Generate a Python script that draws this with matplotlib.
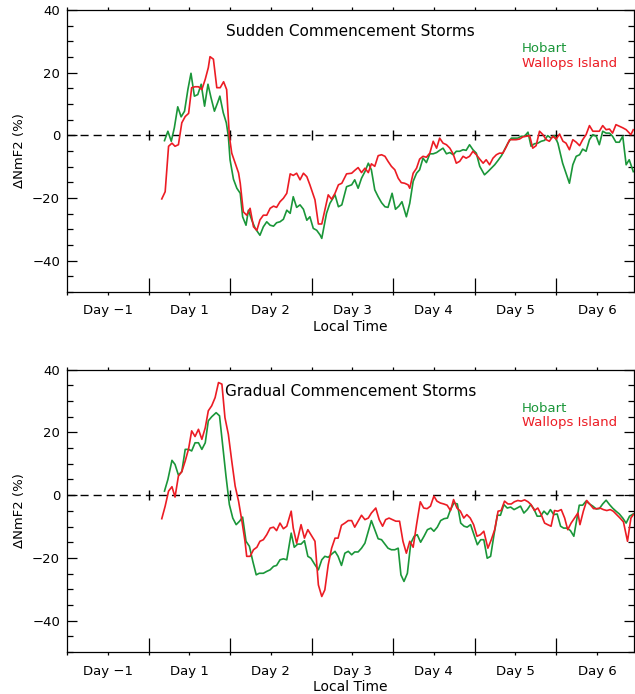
import numpy as np
import matplotlib
matplotlib.use("Agg")
from matplotlib import pyplot as plt

# hours after storm onset (Day 1 starts at 0 h) and NmF2 departure in %
sc_hobart_hr = [4.7, 5.7, 6.7, 7.6, 8.6, 9.6, 10.6, 11.6, 12.5, 13.5, 14.5, 15.5, 16.5, 17.5, 18.4, 19.4,
                20.4, 21.0, 22.0, 22.9, 23.5, 24.0, 25.0, 26.0, 27.0, 27.7, 28.7, 29.4, 30.4, 31.4, 32.8,
                33.8, 34.8, 35.8, 36.8, 37.7, 38.7, 39.7, 40.7, 41.7, 42.6, 43.6, 44.6, 45.6, 46.6, 47.5,
                48.5, 49.5, 50.5, 51.0, 52.4, 53.4, 54.9, 55.9, 56.9, 58.3, 59.8, 60.7, 61.7, 62.7, 63.7,
                64.7, 65.6, 66.6, 67.6, 68.6, 69.6, 70.5, 71.7, 72.7, 73.7, 74.6, 75.9, 76.9, 77.9, 78.9,
                79.8, 80.8, 81.8, 82.8, 83.8, 84.8, 85.7, 86.7, 87.7, 88.7, 89.7, 90.6, 91.6, 92.6, 93.5,
                94.5, 95.5, 96.5, 97.5, 98.9, 99.9, 100.9, 101.9, 102.9, 103.9, 104.8, 105.8, 106.8, 107.8,
                108.7, 109.7, 110.7, 111.7, 112.6, 113.6, 114.6, 115.6, 116.6, 117.5, 118.5, 119.5, 120.5,
                121.9, 122.9, 123.9, 124.9, 125.9, 126.9, 127.8, 128.8, 129.8, 130.8, 131.8, 132.7, 133.7,
                134.7, 135.7, 136.6, 137.6, 138.6, 139.6, 140.6, 141.5, 142.7]
sc_hobart_pct = [-1.7, 1.3, -1.9, 2.4, 9.1, 5.9, 7.7, 14.7, 19.8, 12.5, 13.0, 16.3, 9.3, 16.3, 12.0, 7.7,
                 10.6, 12.5, 7.2, 4.0, -0.3, -7.8, -14.0, -16.9, -18.5, -26.0, -28.7, -23.9, -27.1, -29.7,
                 -31.9, -29.2, -27.6, -28.7, -29.0, -27.9, -27.6, -26.8, -23.9, -24.9, -19.6, -23.0, -22.2,
                 -23.6, -27.1, -26.0, -29.7, -30.3, -31.8, -32.9, -24.9, -21.7, -19.0, -22.8, -22.2, -16.4,
                 -15.8, -14.2, -16.9, -13.7, -11.6, -8.9, -11.0, -17.4, -19.6, -21.5, -22.8, -23.0, -18.5,
                 -23.6, -22.6, -21.2, -26.0, -21.7, -14.7, -12.1, -11.0, -7.3, -8.7, -5.9, -5.9, -5.5, -4.8,
                 -4.1, -5.9, -5.5, -6.2, -5.1, -5.1, -4.6, -4.8, -3.0, -4.6, -5.7, -9.9, -12.6, -11.6, -10.5,
                 -9.4, -8.0, -6.5, -4.6, -2.5, -0.9, -0.9, -0.9, -0.3, -0.3, 1.0, -3.5, -2.7, -2.5, -1.9,
                 -1.6, -0.1, -0.9, -0.1, -2.5, -8.9, -12.1, -15.3, -9.4, -6.7, -6.2, -4.4, -5.1, -1.4, 0.2,
                 -0.3, -3.0, 1.3, 0.7, 0.7, -0.3, -2.2, -2.2, -0.3, -9.4, -7.8, -11.6]

sc_wallops_hr = [3.9, 4.9, 5.9, 6.9, 7.8, 8.8, 9.8, 10.8, 11.8, 12.7, 13.7, 14.7, 15.7, 16.7, 17.6, 18.1,
                 19.1, 20.1, 21.1, 22.1, 23.0, 23.8, 24.5, 25.5, 26.5, 27.0, 27.9, 28.9, 29.9, 30.9, 31.9,
                 32.8, 33.8, 34.8, 35.8, 36.8, 37.7, 38.7, 39.7, 40.7, 41.7, 42.6, 43.6, 44.6, 45.6, 46.6,
                 47.5, 49.0, 50.0, 51.0, 51.9, 52.9, 53.9, 54.9, 55.9, 56.9, 58.3, 59.8, 60.7, 61.7, 62.7,
                 63.7, 64.7, 65.6, 66.6, 67.6, 68.6, 69.6, 70.5, 71.5, 72.5, 73.5, 74.4, 75.4, 76.4, 76.9,
                 77.9, 78.9, 79.8, 80.8, 81.8, 82.8, 83.8, 84.8, 85.7, 86.7, 87.7, 88.7, 89.7, 90.6, 91.6,
                 92.6, 93.5, 94.5, 95.5, 96.5, 97.5, 98.5, 99.4, 100.4, 101.4, 102.4, 103.3, 104.3, 105.3,
                 106.3, 107.3, 108.2, 109.2, 110.2, 111.2, 112.2, 113.1, 114.1, 115.1, 116.1, 117.1, 118.0,
                 119.0, 120.0, 121.0, 122.0, 122.9, 123.9, 124.9, 125.9, 126.9, 127.8, 128.8, 129.8, 130.8,
                 131.8, 132.7, 133.7, 134.7, 135.7, 136.6, 137.6, 138.6, 139.6, 140.6, 142.0, 142.7]
sc_wallops_pct = [-20.3, -18.0, -3.5, -2.5, -3.5, -3.0, 4.0, 6.0, 7.0, 15.2, 15.5, 15.5, 14.6, 17.9, 21.6,
                  25.1, 24.3, 15.2, 15.2, 17.1, 14.6, -0.3, -5.7, -8.9, -12.0, -15.3, -24.4, -25.5, -23.3,
                  -29.2, -30.3, -27.0, -25.5, -25.5, -23.3, -22.6, -23.0, -21.2, -20.1, -18.5, -12.3, -12.8,
                  -12.1, -14.2, -12.1, -13.2, -15.8, -20.6, -28.3, -28.3, -23.9, -19.0, -20.4, -18.5, -15.8,
                  -15.3, -12.3, -12.1, -11.2, -10.3, -11.9, -10.5, -11.9, -9.1, -9.9, -6.5, -6.2, -6.7, -8.3,
                  -9.9, -11.0, -13.7, -15.1, -15.3, -15.8, -16.9, -12.1, -10.5, -7.6, -6.7, -7.0, -5.7, -1.9,
                  -4.1, -0.9, -2.5, -3.0, -4.1, -6.0, -8.9, -8.3, -6.7, -7.3, -6.7, -5.1, -6.2, -7.6, -8.9,
                  -7.8, -9.4, -7.3, -6.2, -5.7, -5.7, -3.7, -1.4, -1.4, -1.4, -1.2, -0.5, -0.3, -0.1, -4.1,
                  -3.3, 1.3, 0.2, -1.4, -1.9, -0.3, -1.2, 0.4, -1.9, -2.5, -4.6, -1.4, -2.2, -3.3, -1.4, 0.2,
                  3.1, 1.3, 1.3, 1.3, 3.1, 1.8, 2.0, 0.7, 3.4, 2.9, 2.4, 1.8, 0.2, 1.8]

gc_hobart_hr = [4.7, 5.7, 6.9, 7.8, 8.8, 9.8, 10.8, 11.8, 12.7, 13.7, 14.7, 15.7, 16.7, 17.6, 18.6, 19.9,
                20.9, 21.9, 22.8, 23.8, 24.8, 25.8, 26.8, 27.7, 28.7, 29.7, 30.7, 31.7, 32.6, 33.8, 34.8,
                35.8, 36.8, 37.7, 38.7, 39.7, 40.7, 42.0, 42.9, 43.9, 44.9, 45.9, 46.9, 47.8, 49.0, 50.0,
                51.0, 51.9, 52.9, 53.9, 54.9, 55.8, 56.8, 57.8, 58.8, 59.8, 60.7, 61.7, 62.7, 63.7, 64.7,
                65.6, 66.6, 67.6, 68.6, 69.6, 70.5, 71.5, 72.5, 73.5, 74.3, 75.2, 76.2, 77.2, 78.2, 79.1,
                80.1, 81.1, 82.1, 83.1, 84.0, 85.0, 86.0, 87.0, 88.0, 88.9, 89.9, 90.9, 91.9, 92.9, 93.8,
                94.8, 95.8, 96.8, 97.8, 98.7, 99.7, 100.7, 101.7, 102.7, 103.6, 104.6, 105.6, 106.6, 107.6,
                108.5, 109.5, 110.5, 111.5, 112.5, 113.4, 114.4, 115.4, 116.4, 117.4, 118.3, 119.3, 120.3,
                121.3, 122.2, 123.2, 124.2, 125.2, 126.8, 127.8, 128.8, 129.8, 130.8, 131.8, 132.7, 133.7,
                134.7, 135.7, 136.6, 137.6, 138.6, 139.6, 140.6, 141.6, 142.7]
gc_hobart_pct = [1.3, 5.0, 11.1, 9.8, 6.4, 7.5, 14.6, 14.6, 14.1, 16.7, 16.7, 14.6, 16.7, 23.7, 25.0, 26.3,
                 25.3, 15.1, 6.1, -3.0, -7.3, -9.4, -8.3, -7.0, -14.7, -16.3, -21.1, -25.4, -24.9, -24.9,
                 -24.3, -23.8, -22.7, -22.4, -20.6, -20.3, -20.6, -12.1, -16.6, -15.6, -15.6, -14.5, -19.5,
                 -20.1, -22.2, -23.8, -20.6, -19.5, -19.8, -18.8, -17.9, -19.5, -22.4, -18.5, -17.9, -19.0,
                 -18.1, -18.1, -16.9, -15.3, -11.5, -8.1, -11.0, -13.9, -14.2, -15.6, -16.9, -17.4, -17.4,
                 -16.9, -25.4, -27.5, -24.9, -15.3, -13.1, -12.6, -15.0, -13.1, -11.0, -10.5, -11.5, -10.2,
                 -8.1, -7.5, -7.3, -4.6, -2.5, -2.8, -8.9, -9.9, -10.2, -9.4, -12.6, -15.8, -14.2, -14.2,
                 -20.1, -19.5, -12.6, -6.4, -6.4, -3.0, -4.1, -3.8, -4.6, -4.1, -3.5, -5.7, -4.6, -3.0,
                 -4.3, -6.7, -6.7, -5.1, -6.2, -4.6, -6.2, -6.0, -9.9, -10.5, -10.5, -11.3, -13.1, -3.2,
                 -3.2, -1.9, -2.8, -3.5, -4.4, -4.3, -2.8, -1.6, -3.0, -4.1, -5.1, -6.0, -7.3, -8.9, -6.7,
                 -6.0]

gc_wallops_hr = [3.9, 4.9, 5.9, 6.9, 7.8, 8.8, 9.8, 10.8, 11.8, 12.7, 13.7, 14.7, 15.7, 16.7, 17.6, 18.6,
                 19.6, 20.6, 21.6, 22.5, 23.5, 24.5, 25.5, 26.5, 27.5, 28.4, 28.9, 29.9, 30.9, 31.9, 32.8,
                 33.8, 34.8, 35.8, 36.8, 37.7, 38.7, 39.7, 40.7, 42.0, 42.6, 43.6, 44.9, 45.9, 46.9, 47.8,
                 49.0, 50.0, 51.0, 51.9, 52.9, 53.9, 54.9, 55.8, 56.8, 57.8, 58.8, 59.8, 60.7, 61.7, 62.7,
                 63.7, 64.7, 65.6, 66.9, 67.9, 68.9, 69.8, 70.8, 71.8, 72.8, 73.9, 74.9, 75.9, 76.9, 77.9,
                 78.9, 80.0, 81.0, 82.0, 83.0, 84.0, 84.9, 85.9, 86.9, 87.9, 88.9, 89.8, 90.8, 91.8, 92.8,
                 93.7, 94.7, 95.7, 96.7, 97.7, 98.7, 99.9, 100.9, 101.9, 102.9, 103.8, 104.8, 105.8, 106.8,
                 107.7, 108.7, 109.7, 110.7, 111.7, 112.6, 113.6, 114.6, 115.6, 116.6, 117.5, 118.5, 119.5,
                 120.5, 121.5, 122.5, 123.4, 124.4, 125.4, 126.4, 127.0, 128.0, 129.0, 130.0, 131.0, 131.9,
                 132.9, 133.9, 134.9, 135.9, 136.8, 137.8, 138.8, 139.8, 141.0, 142.0, 142.7]
gc_wallops_pct = [-7.5, -3.5, 1.3, 2.7, -0.6, 6.1, 7.5, 10.9, 14.8, 20.5, 18.7, 21.0, 17.8, 21.5, 26.9, 28.5,
                  31.1, 35.9, 35.4, 24.7, 19.4, 10.9, 2.9, -1.9, -8.3, -14.7, -19.5, -19.5, -17.4, -16.6,
                  -14.7, -14.2, -12.6, -10.5, -10.2, -11.3, -8.9, -10.7, -9.9, -5.1, -10.5, -15.3, -9.4,
                  -13.7, -11.0, -12.6, -14.7, -28.6, -32.3, -30.2, -22.2, -16.9, -13.7, -13.7, -9.6, -8.9,
                  -8.1, -8.1, -10.2, -8.3, -6.4, -7.8, -7.3, -5.7, -4.1, -7.8, -9.9, -7.8, -7.3, -7.8, -8.3,
                  -8.3, -14.7, -18.5, -14.7, -16.6, -9.4, -2.1, -4.1, -4.3, -3.5, -0.3, -1.9, -2.5, -2.8,
                  -3.2, -4.9, -1.4, -4.1, -5.1, -7.3, -6.2, -7.3, -9.4, -13.1, -12.6, -11.5, -16.9, -14.2,
                  -11.0, -5.1, -4.9, -1.9, -2.8, -2.8, -2.1, -1.7, -1.9, -1.5, -2.1, -3.0, -4.9, -4.1, -6.2,
                  -8.9, -9.4, -9.9, -4.9, -5.1, -4.6, -7.3, -11.0, -8.9, -7.3, -5.7, -9.4, -5.1, -1.7, -3.0,
                  -4.3, -4.3, -4.1, -4.6, -4.9, -4.6, -5.1, -6.2, -7.3, -8.5, -14.7, -7.3, -6.2]

day_edges = [0, 24, 48, 72, 96, 120]
day_centers = [-12, 12, 36, 60, 84, 108, 132]
day_labels = ["Day \u22121", "Day 1", "Day 2", "Day 3", "Day 4", "Day 5", "Day 6"]

GREEN = "#1a9639"
RED = "#ec1c24"

plt.rcParams["font.family"] = ["DejaVu Sans"]


def draw_panel(ax, title, hob_hr, hob_pct, wal_hr, wal_pct):
    ax.axhline(0, color="black", lw=1.0, ls=(0, (5.8, 3.6)), zorder=1)
    ax.vlines(day_edges, -1.6, 1.6, color="black", lw=1.0, zorder=1)
    ax.plot(hob_hr, hob_pct, color=GREEN, lw=1.2, zorder=2)
    ax.plot(wal_hr, wal_pct, color=RED, lw=1.2, zorder=3)

    ax.set_xlim(-24, 143)
    ax.set_ylim(-50, 40)

    # 12-hourly short ticks, day labels in the middle of each day
    ticks = np.arange(-24, 144, 12)
    labels = [day_labels[day_centers.index(t)] if t in day_centers else "" for t in ticks]
    ax.set_xticks(ticks, labels)
    ax.set_xticks(day_edges, minor=True)
    ax.xaxis.remove_overlapping_locs = False
    ax.tick_params(axis="x", which="major", direction="out", length=2, width=0.9,
                   top=True, bottom=True, labelsize=9.5, pad=7)
    ax.tick_params(axis="x", which="minor", direction="in", length=10, width=0.9,
                   top=False, bottom=True)

    ax.set_yticks([-40, -20, 0, 20, 40])
    ax.set_yticks(np.arange(-50, 41, 5), minor=True)
    ax.tick_params(axis="y", which="major", direction="in", length=7.5, width=0.9,
                   left=True, right=True, labelsize=9.5, pad=5)
    ax.tick_params(axis="y", which="minor", direction="in", length=4, width=0.9,
                   left=True, right=True)

    for sp in ax.spines.values():
        sp.set_linewidth(0.9)

    ax.set_xlabel("Local Time", fontsize=10, labelpad=1.5)
    ax.set_ylabel("\u0394NmF2 (%)", fontsize=9.5)
    ax.yaxis.set_label_coords(-0.072, 0.5)

    ax.text(0.5, 0.922, title, transform=ax.transAxes, ha="center", va="center", fontsize=11)
    ax.text(0.802, 0.863, "Hobart", transform=ax.transAxes, ha="left", va="center",
            fontsize=9.5, color=GREEN)
    ax.text(0.802, 0.812, "Wallops Island", transform=ax.transAxes, ha="left", va="center",
            fontsize=9.5, color=RED)


fig = plt.figure(figsize=(6.35, 6.94), dpi=100)
ax1 = fig.add_axes([0.1055, 0.5793, 0.8934, 0.4063])
ax2 = fig.add_axes([0.1055, 0.0605, 0.8934, 0.4068])

draw_panel(ax1, "Sudden Commencement Storms", sc_hobart_hr, sc_hobart_pct, sc_wallops_hr, sc_wallops_pct)
draw_panel(ax2, "Gradual Commencement Storms", gc_hobart_hr, gc_hobart_pct, gc_wallops_hr, gc_wallops_pct)

plt.savefig("out.png", dpi=100)
